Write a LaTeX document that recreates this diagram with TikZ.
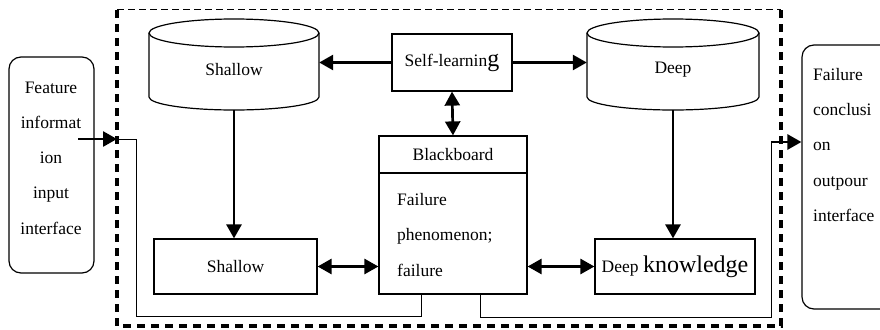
\documentclass[tikz,border=0pt]{standalone}
\usepackage{fontspec}
\setmainfont{Liberation Serif}
\usetikzlibrary{arrows.meta,calc}
\newcommand{\txt}{\fontsize{17.5}{35.3}\selectfont}
\newcommand{\bigtxt}{\fontsize{24}{28}\selectfont}

\begin{document}
\begin{tikzpicture}[x=1pt,y=-1pt,
  box/.style={draw, line width=1.2pt, inner sep=0pt},
  ghost/.style={inner sep=0pt},
  lbl/.style={font=\txt, inner sep=0pt},
  tip/.tip={Triangle[length=14pt,width=15pt]},
  bold arrow/.style={line width=2.7pt, -tip},
  both arrow/.style={line width=2.7pt, tip-tip},
  thin line/.style={line width=1pt},
  frame thick/.style={line width=3.3pt, dash pattern=on 8pt off 6pt},
  frame thin/.style={line width=1pt, dash pattern=on 7pt off 4pt},
  ]
\useasboundingbox (0,0) rectangle (880,329);

% system boundary
\draw[frame thin] (117,10) -- (781,10);
\draw[frame thick] (117,10) -- (117,326) -- (781,326) -- (781,10);

% input / output interfaces
\node[box, rounded corners=12pt, minimum width=85pt, minimum height=216pt] (inbox) at (51.5,165) {};
\node[lbl, align=center] (intext) at (51,158) {Feature\\informat\\ion\\input\\interface};
\node[box, rounded corners=12pt, minimum width=98pt, minimum height=264pt] (outbox) at (851,177) {};
\node[lbl, align=left, anchor=west] (outtext) at (813,145) {Failure\\conclusi\\on\\outpour\\interface};

% knowledge bases (cylinders)
\node[ghost, minimum width=170pt, minimum height=92pt] (shc) at (234,64) {};
\draw[box] (149,33) -- (149,97) arc[start angle=180,end angle=360,x radius=85pt,y radius=13pt] -- (319,33);
\draw[box] (234,33) ellipse[x radius=85pt, y radius=14pt];
\node[lbl] (shct) at (234,70) {Shallow};

\node[ghost, minimum width=172pt, minimum height=92pt] (dc) at (673,64) {};
\draw[box] (587,33) -- (587,97) arc[start angle=180,end angle=360,x radius=86pt,y radius=13pt] -- (759,33);
\draw[box] (673,33) ellipse[x radius=86pt, y radius=14pt];
\node[lbl] (dct) at (673,70) {Deep};

% self-learning module
\node[box, minimum width=120pt, minimum height=57pt] (sl) at (452,62.5) {{\txt Self-learnin}{\bigtxt g}};

% blackboard
\node[box, minimum width=148pt, minimum height=158pt] (bb) at (453,215) {};
\draw[box] (379,173) -- (527,173);
\node[lbl] (bbh) at (453,155) {Blackboard};
\node[lbl, align=left, anchor=west] (bbt) at (397,235) {Failure\\phenomenon;\\failure};

% reasoning modules
\node[box, minimum width=163pt, minimum height=55pt, font=\txt] (sb) at (235.5,266.5) {Shallow};
\node[box, minimum width=160pt, minimum height=55pt] (dk) at (675,266.5) {{\txt Deep }{\bigtxt knowledge}};

% connectors
\draw[both arrow] (sl.south) -- (bb.north);
\draw[bold arrow] (sl.west) -- (sl.west -| shc.east);
\draw[bold arrow] (sl.east) -- (sl.east -| dc.west);
\draw[bold arrow] (shc.south) -- (shc.south |- sb.north);
\draw[bold arrow] (dc.south) -- (dc.south |- dk.north);
\draw[both arrow] (sb.east) -- (sb.east -| bb.west);
\draw[both arrow] (dk.west -| bb.east) -- (dk.west);

% input feed and output feed
\coordinate (inStart) at (78,139);
\coordinate (gateL) at (117,139);
\coordinate (jL) at (136,316);
\coordinate (bbL) at ($(bb.south)+(-32,0)$);
\coordinate (bbR) at ($(bb.south)+(27,0)$);
\coordinate (jR) at (771,317);
\coordinate (outIn) at (771,142);
\draw[bold arrow] (inStart) -- (gateL);
\draw[thin line] (gateL) -| (jL) -| (bbL);
\draw[thin line] (bbR) |- (jR) |- (outIn);
\draw[bold arrow] (outIn) -- (outIn -| outbox.west);
\end{tikzpicture}
\end{document}
